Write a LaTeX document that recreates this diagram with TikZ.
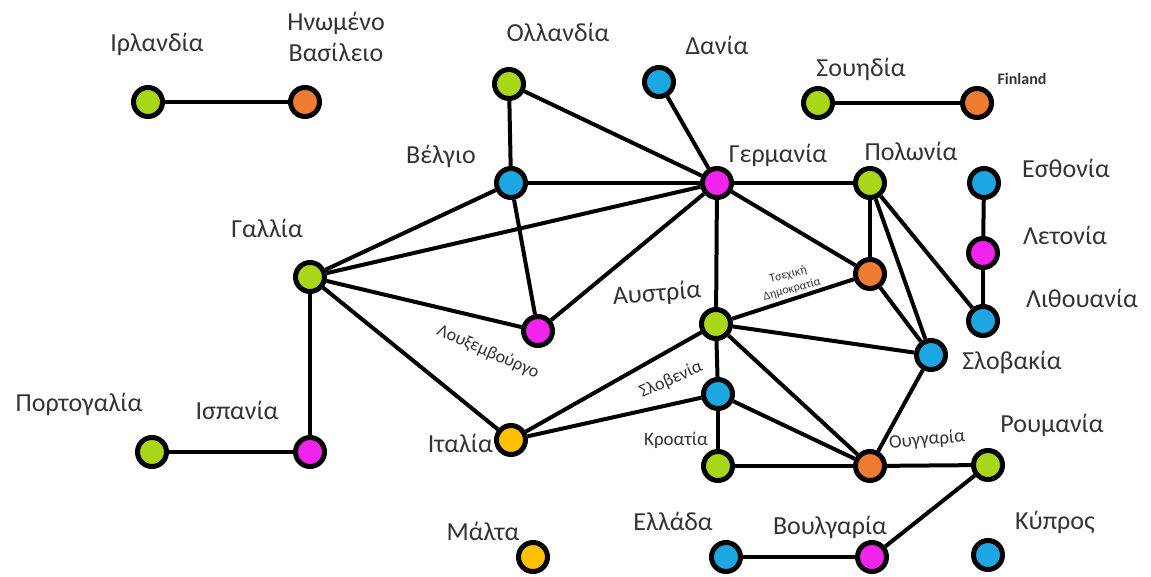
\documentclass[tikz,border=0pt]{standalone}
\usepackage{fontspec}
\setmainfont{Carlito}

\definecolor{cgreen}{RGB}{168,214,24}
\definecolor{corange}{RGB}{238,124,48}
\definecolor{cblue}{RGB}{28,166,226}
\definecolor{cpink}{RGB}{240,36,236}
\definecolor{cyellow}{RGB}{255,192,0}

\tikzset{
  country/.style={circle,draw=black,line width=5pt,minimum size=29pt,inner sep=0pt},
  lbl/.style={font=\fontsize{26}{31}\selectfont,text=black!80,align=center,inner sep=1pt},
  small/.style={font=\fontsize{18}{21}\selectfont,text=black!80,align=center,inner sep=1pt},
  link/.style={line width=4pt,black}
}

\begin{document}
\begin{tikzpicture}[x=1pt,y=-1pt]

\useasboundingbox (0,0) rectangle (1151,577) ;

% countries
\node[country,fill=cgreen]  (ie) at (148,102) {} ;
\node[country,fill=corange] (uk) at (305,102) {} ;
\node[country,fill=cgreen]  (nl) at (509,84) {} ;
\node[country,fill=cblue]   (dk) at (659,82) {} ;
\node[country,fill=cgreen]  (se) at (818,103) {} ;
\node[country,fill=corange] (fi) at (977,103) {} ;
\node[country,fill=cblue]   (be) at (511,183) {} ;
\node[country,fill=cpink]   (de) at (717,183) {} ;
\node[country,fill=cgreen]  (pl) at (870,183) {} ;
\node[country,fill=cblue]   (ee) at (984,183) {} ;
\node[country,fill=cpink]   (lv) at (983,253) {} ;
\node[country,fill=cblue]   (lt) at (983,321) {} ;
\node[country,fill=cgreen]  (fr) at (310,277) {} ;
\node[country,fill=corange] (cz) at (870,274) {} ;
\node[country,fill=cpink]   (lu) at (538,331) {} ;
\node[country,fill=cgreen]  (at) at (716,324) {} ;
\node[country,fill=cblue]   (sk) at (931,355) {} ;
\node[country,fill=cblue]   (si) at (718,394) {} ;
\node[country,fill=cgreen]  (pt) at (152,452) {} ;
\node[country,fill=cpink]   (es) at (310,452) {} ;
\node[country,fill=cyellow] (it) at (511,440) {} ;
\node[country,fill=cgreen]  (hr) at (718,466) {} ;
\node[country,fill=corange] (hu) at (870,466) {} ;
\node[country,fill=cgreen]  (ro) at (988,465) {} ;
\node[country,fill=cyellow] (mt) at (533,557) {} ;
\node[country,fill=cblue]   (gr) at (726,557) {} ;
\node[country,fill=cpink]   (bg) at (872,557) {} ;
\node[country,fill=cblue]   (cy) at (988,555) {} ;

% borders
\draw[link] (ie) -- (uk) ;
\draw[link] (se) -- (fi) ;
\draw[link] (nl) -- (be) ;
\draw[link] (nl) -- (de) ;
\draw[link] (dk) -- (de) ;
\draw[link] (be) -- (de) ;
\draw[link] (be) -- (fr) ;
\draw[link] (be) -- (lu) ;
\draw[link] (fr) -- (de) ;
\draw[link] (fr) -- (lu) ;
\draw[link] (fr) -- (it) ;
\draw[link] (fr) -- (es) ;
\draw[link] (pt) -- (es) ;
\draw[link] (lu) -- (de) ;
\draw[link] (de) -- (at) ;
\draw[link] (de) -- (pl) ;
\draw[link] (de) -- (cz) ;
\draw[link] (pl) -- (cz) ;
\draw[link] (pl) -- (sk) ;
\draw[link] (pl) -- (lt) ;
\draw[link] (ee) -- (lv) ;
\draw[link] (lv) -- (lt) ;
\draw[link] (cz) -- (sk) ;
\draw[link] (cz) -- (at) ;
\draw[link] (at) -- (sk) ;
\draw[link] (at) -- (si) ;
\draw[link] (at) -- (it) ;
\draw[link] (at) -- (hu) ;
\draw[link] (si) -- (it) ;
\draw[link] (si) -- (hu) ;
\draw[link] (si) -- (hr) ;
\draw[link] (hr) -- (hu) ;
\draw[link] (sk) -- (hu) ;
\draw[link] (hu) -- (ro) ;
\draw[link] (ro) -- (bg) ;
\draw[link] (gr) -- (bg) ;

% names
\node[lbl] (ie_t) at (157,44) {Ιρλανδία} ;
\node[lbl] (uk_t) at (336,37) {Ηνωμένο\\Βασίλειο} ;
\node[lbl] (nl_t) at (558,32) {Ολλανδία} ;
\node[lbl] (dk_t) at (717,45) {Δανία} ;
\node[lbl] (se_t) at (861,69) {Σουηδία} ;
\node[small,font=\fontsize{16}{18}\bfseries] (fi_t) at (1022,79) {Finland} ;
\node[lbl] (be_t) at (441,156) {Βέλγιο} ;
\node[lbl] (de_t) at (778,155) {Γερμανία} ;
\node[lbl] (pl_t) at (911,151) {Πολωνία} ;
\node[lbl] (ee_t) at (1066,168) {Εσθονία} ;
\node[lbl] (lv_t) at (1065,235) {Λετονία} ;
\node[lbl] (lt_t) at (1082,298) {Λιθουανία} ;
\node[lbl] (fr_t) at (267,228) {Γαλλία} ;
\node[small,font=\fontsize{12}{15}\selectfont,rotate=15] (cz_t) at (790,282) {Τσεχική\\Δημοκρατία} ;
\node[small,rotate=-24] (lu_t) at (488,352) {Λουξεμβούργο} ;
\node[lbl,rotate=4] (at_t) at (657,294) {Αυστρία} ;
\node[lbl] (sk_t) at (1012,363) {Σλοβακία} ;
\node[small,rotate=24] (si_t) at (671,380) {Σλοβενία} ;
\node[small,font=\fontsize{19}{22}\selectfont] (hr_t) at (676,440) {Κροατία} ;
\node[small,font=\fontsize{19}{22}\selectfont,rotate=5] (hu_t) at (927,440) {Ουγγαρία} ;
\node[lbl] (pt_t) at (79,404) {Πορτογαλία} ;
\node[lbl] (es_t) at (237,410) {Ισπανία} ;
\node[lbl,anchor=east] (it_t) at (494,443) {Ιταλία} ;
\node[lbl] (ro_t) at (1052,425) {Ρουμανία} ;
\node[lbl] (mt_t) at (483,531) {Μάλτα} ;
\node[lbl] (gr_t) at (673,521) {Ελλάδα} ;
\node[lbl] (bg_t) at (830,527) {Βουλγαρία} ;
\node[lbl] (cy_t) at (1055,522) {Κύπρος} ;

\end{tikzpicture}
\end{document}
